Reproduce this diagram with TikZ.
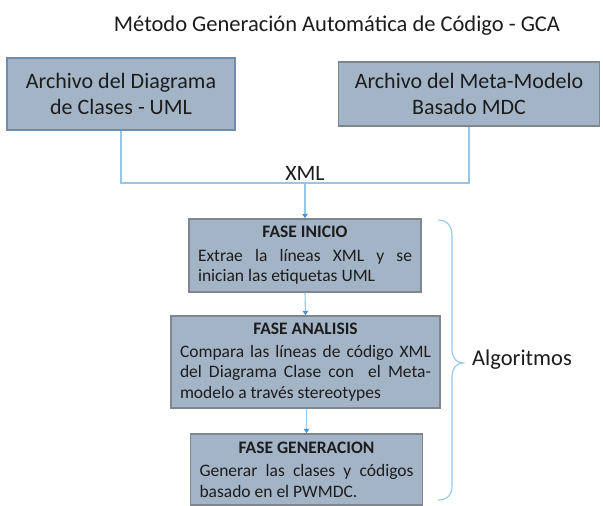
\documentclass[tikz,border=0pt]{standalone}
\usepackage{fontspec}
\setmainfont{Carlito}
\usetikzlibrary{arrows.meta}

\definecolor{boxfill}{RGB}{164,180,199}
\definecolor{boxedge}{RGB}{128,134,142}
\definecolor{boxedgeblue}{RGB}{112,140,172}
\definecolor{linkblue}{RGB}{150,198,234}
\definecolor{tipblue}{RGB}{78,146,212}
\definecolor{inkgray}{RGB}{28,28,28}

\tikzset{
  filebox/.style={draw=boxedge, line width=1.4pt, fill=boxfill, text=inkgray,
    align=center, inner sep=4pt, font=\fontsize{22}{26}\selectfont},
  phasebox/.style={draw=boxedge, line width=1.4pt, fill=boxfill, text=inkgray,
    align=justify, inner xsep=9pt, inner ysep=4pt, font=\fontsize{17.5}{20.6}\selectfont},
  link/.style={draw=linkblue, line width=1.1pt},
  flow/.style={draw=linkblue, line width=1.1pt, -{Triangle[width=5.5pt,length=4.5pt,color=tipblue]}},
  caption/.style={text=inkgray, inner sep=0pt}
}
% phase heading: a centred bold line, then a little extra space
\newcommand{\phasehead}[1]{\parindent=0pt{\centering\bfseries #1\par}\vspace{2.5pt}}

\begin{document}
\begin{tikzpicture}[x=1pt, y=-1pt]
  \useasboundingbox (0,0) rectangle (603,506);

  % heading
  \node[caption, font=\fontsize{22.5}{27}\selectfont] (title) at (337,25.5)
    {Método Generación Automática de Código - GCA};

  % input files
  \node[filebox, draw=boxedgeblue, minimum width=228pt, minimum height=72pt] (uml) at (121,94)
    {Archivo del Diagrama\\de Clases - UML};
  \node[filebox, minimum width=261pt, minimum height=64pt] (meta) at (469,94)
    {Archivo del Meta-Modelo\\Basado MDC};

  % XML junction
  \coordinate (join) at (305,183);
  \node[caption, font=\fontsize{22}{26}\selectfont] (xml) at (305,173) {XML};

  % algorithm phases
  \node[phasebox, text width=214pt, minimum height=73pt] (inicio) at (305,255.5)
    {\phasehead{FASE INICIO}
     Extrae la líneas XML y se\linebreak inician las etiquetas UML};
  \node[phasebox, text width=251pt, minimum height=92pt] (analisis) at (305.5,362)
    {\phasehead{FASE ANALISIS}
     Compara las líneas de código XML\linebreak del Diagrama Clase con\ \ el Meta-\linebreak modelo a través stereotypes};
  \node[phasebox, text width=214pt, minimum height=71pt] (generacion) at (306.5,469.5)
    {\phasehead{FASE GENERACION}
     Generar las clases y códigos\linebreak basado en el PWMDC.};

  % connectors
  \draw[link] (uml.south) |- (join) -| (meta.south);
  \draw[flow] (join) -- (inicio.north);
  \draw[flow] (inicio.south) -- (analisis.north);
  \draw[flow] (analisis.south -| generacion.north) -- (generacion.north);

  % brace grouping the phases
  \draw[link] (438,220) .. controls (447,220) and (452,226) .. (452,236)
    -- (452,350) .. controls (452,357) and (456,363) .. (463,363)
    .. controls (456,363) and (452,369) .. (452,376)
    -- (452,486) .. controls (452,495) and (447,500) .. (438,500);
  \node[caption, anchor=west, font=\fontsize{22.5}{27}\selectfont] (algo) at (472,360) {Algoritmos};
\end{tikzpicture}
\end{document}
